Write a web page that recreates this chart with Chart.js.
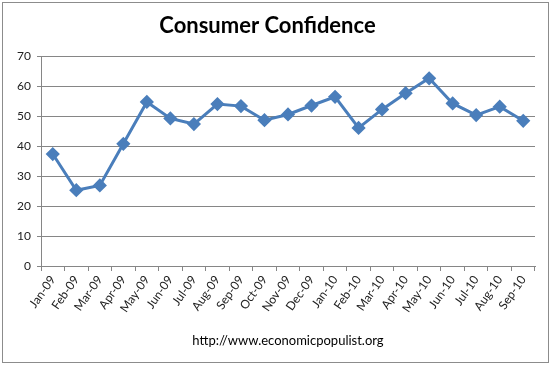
<!DOCTYPE html>
<html>
<head>
<meta charset="utf-8">
<script src="https://cdn.jsdelivr.net/npm/chart.js@4"></script>
<style>
  html, body { margin: 0; padding: 0; background: #fff; }
  #wrap { width: 551px; height: 367px; }
</style>
</head>
<body>
<div id="wrap"><canvas id="chart" width="551" height="367"></canvas></div>
<script>
const months = ['Jan-09', 'Feb-09', 'Mar-09', 'Apr-09', 'May-09', 'Jun-09', 'Jul-09',
    'Aug-09', 'Sep-09', 'Oct-09', 'Nov-09', 'Dec-09', 'Jan-10', 'Feb-10', 'Mar-10',
    'Apr-10', 'May-10', 'Jun-10', 'Jul-10', 'Aug-10', 'Sep-10'];
const confidence = [37.4, 25.3, 26.9, 40.8, 54.8, 49.3, 47.4, 54.1, 53.4, 48.7, 50.6,
    53.6, 56.5, 46.1, 52.3, 57.7, 62.7, 54.3, 50.4, 53.2, 48.5];
const yTicks = [0, 10, 20, 30, 40, 50, 60, 70];

const lineBlue = '#4A7EBB';
const axisGray = '#868686';

// frame around the whole chart
const framePlugin = {
    id: 'frame',
    beforeDraw(chart) {
        const ctx = chart.ctx;
        ctx.save();
        ctx.fillStyle = '#fff';
        ctx.fillRect(0, 0, chart.width, chart.height);
        ctx.strokeStyle = '#8c8c8c';
        ctx.lineWidth = 1;
        ctx.strokeRect(2.5, 2.5, 546, 360);
        ctx.restore();
    }
};

new Chart(document.getElementById('chart').getContext('2d'), {
    type: 'line',
    data: {
        labels: months,
        datasets: [{
            label: 'Consumer Confidence',
            data: confidence,
            borderColor: lineBlue,
            backgroundColor: lineBlue,
            borderWidth: 3,
            pointStyle: 'rectRot',
            pointRadius: 5,
            pointHoverRadius: 5,
            tension: 0
        }]
    },
    plugins: [framePlugin],
    options: {
        responsive: false,
        animation: false,
        layout: { padding: { left: 0, right: 16, top: 0, bottom: 8 } },
        plugins: {
            legend: { display: false },
            tooltip: { enabled: false },
            title: {
                display: true,
                text: 'Consumer Confidence',
                color: '#000',
                font: { family: 'Lato', size: 22, weight: 'bold' },
                padding: { top: 13, bottom: 17 }
            }
        },
        scales: {
            x: {
                offset: true,
                grid: { offset: true, drawOnChartArea: false, drawTicks: true, tickLength: 5, color: axisGray },
                border: { color: axisGray },
                ticks: {
                    autoSkip: false,
                    maxRotation: 55,
                    minRotation: 55,
                    color: '#222',
                    padding: 2,
                    font: { family: 'Lato', size: 12 }
                },
                title: {
                    display: true,
                    text: 'http://www.economicpopulist.org',
                    color: '#000',
                    font: { family: 'Lato', size: 13 },
                    padding: { top: 4, bottom: 10 }
                },
                afterFit(scale) { scale.height = 93; }
            },
            y: {
                min: 0,
                max: 70,
                afterBuildTicks(scale) { scale.ticks = yTicks.map(v => ({ value: v })); },
                grid: { color: axisGray, tickLength: 4 },
                border: { color: axisGray },
                ticks: {
                    color: '#222',
                    padding: 6,
                    font: { family: 'Lato', size: 12 }
                },
                afterFit(scale) { scale.width = 41; }
            }
        }
    }
});
</script>
</body>
</html>
